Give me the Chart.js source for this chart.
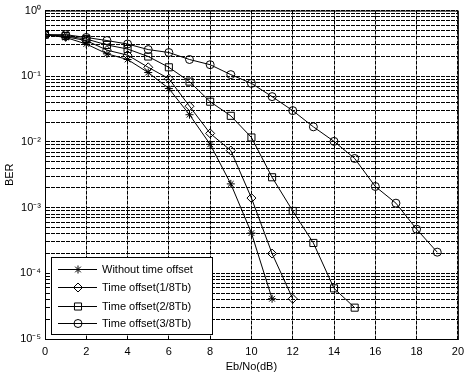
<!DOCTYPE html>
<html>
<head>
<meta charset="utf-8">
<script src="https://cdn.jsdelivr.net/npm/chart.js@4/dist/chart.umd.min.js"></script>
<style>
  html, body { margin: 0; padding: 0; background: #fff; }
  #wrap { width: 470px; height: 374px; }
</style>
</head>
<body>
<div id="wrap"><canvas id="berChart" width="470" height="374"></canvas></div>
<script>
const FONT_FAMILY = '"Liberation Sans", Arial, Helvetica, sans-serif';

const snrNoOffset = [0, 1, 2, 3, 4, 5, 6, 7, 8, 9, 10, 11];
const berNoOffset = [0.43, 0.39, 0.31, 0.22, 0.18, 0.114, 0.065, 0.026, 0.0092, 0.0023, 0.00041, 0.000041];

const snrOffset1 = [0, 1, 2, 3, 4, 5, 6, 7, 8, 9, 10, 11, 12];
const berOffset1 = [0.43, 0.4, 0.35, 0.25, 0.21, 0.137, 0.092, 0.035, 0.0135, 0.0074, 0.0014, 0.0002, 0.000041];

const snrOffset2 = [0, 1, 2, 3, 4, 5, 6, 7, 8, 9, 10, 11, 12, 13, 14, 15];
const berOffset2 = [0.43, 0.41, 0.37, 0.3, 0.26, 0.2, 0.137, 0.083, 0.041, 0.025, 0.0117, 0.0029, 0.00089, 0.00029, 0.000059, 0.00003];

const snrOffset3 = [0, 1, 2, 3, 4, 5, 6, 7, 8, 9, 10, 11, 12, 13, 14, 15, 16, 17, 18, 19];
const berOffset3 = [0.43, 0.43, 0.39, 0.35, 0.31, 0.255, 0.23, 0.18, 0.15, 0.106, 0.078, 0.049, 0.03, 0.017, 0.0102, 0.0056, 0.0021, 0.00117, 0.00047, 0.00021];

const seriesLabels = ['Without time offset', 'Time offset(1/8Tb)', 'Time offset(2/8Tb)', 'Time offset(3/8Tb)'];
const seriesMarkers = ['star', 'rectRot', 'rect', 'circle'];
const markerSizes = [4, 4.5, 5, 4];

const xTickValues = [0, 2, 4, 6, 8, 10, 12, 14, 16, 18, 20];
const decadeExponents = [-5, -4, -3, -2, -1, 0];

const SUPERSCRIPT = { '-': '\u207B', 0: '\u2070', 1: '\u00B9', 2: '\u00B2', 3: '\u00B3', 4: '\u2074', 5: '\u2075' };

/**
 * every 1..9 x 10^k step so that the minor grid is drawn like matlab
 */
const yTickValues = [];
decadeExponents.forEach(exp => {
  if (exp === 0) {
    yTickValues.push(1);
    return;
  }
  for (let m = 1; m <= 9; m++) yTickValues.push(Number((m * Math.pow(10, exp)).toPrecision(3)));
});

const toPoints = (xs, ys) => xs.map((x, i) => ({ x, y: ys[i] }));

const powerLabel = value => {
  const exp = Math.round(Math.log10(value));
  if (Math.abs(Math.log10(value) - exp) > 1e-6) return '';
  return '10' + String(exp).split('').map(c => SUPERSCRIPT[c]).join('');
};

const dataSets = [
  [snrNoOffset, berNoOffset],
  [snrOffset1, berOffset1],
  [snrOffset2, berOffset2],
  [snrOffset3, berOffset3],
].map(([xs, ys], i) => ({
  label: seriesLabels[i],
  data: toPoints(xs, ys),
  borderColor: '#000',
  backgroundColor: 'rgba(0,0,0,0)',
  borderWidth: 1,
  pointStyle: seriesMarkers[i],
  pointRadius: markerSizes[i],
  pointBorderColor: '#000',
  pointBackgroundColor: 'rgba(0,0,0,0)',
  pointBorderWidth: 1,
  tension: 0,
}));

/**
 * box round the plot area plus the legend drawn inside it (bottom left)
 */
const frameAndLegend = {
  id: 'frameAndLegend',
  afterDatasetsDraw(chart) {
    const { ctx, chartArea } = chart;
    ctx.save();
    ctx.strokeStyle = '#000';
    ctx.lineWidth = 1;
    ctx.setLineDash([]);
    ctx.strokeRect(chartArea.left + 0.5, chartArea.top + 0.5, chartArea.right - chartArea.left, chartArea.bottom - chartArea.top);

    const box = { x: 51, y: 257, w: 161, h: 77 };
    ctx.fillStyle = '#fff';
    ctx.fillRect(box.x, box.y, box.w, box.h);
    ctx.strokeRect(box.x + 0.5, box.y + 0.5, box.w, box.h);

    const rowY = [269, 287, 306, 323];
    ctx.font = '11px ' + FONT_FAMILY;
    ctx.textBaseline = 'middle';
    ctx.textAlign = 'left';
    chart.data.datasets.forEach((ds, i) => {
      const y = rowY[i];
      ctx.beginPath();
      ctx.moveTo(58, y + 0.5);
      ctx.lineTo(97, y + 0.5);
      ctx.stroke();
      // hollow marker, like the ones on the curves
      ctx.fillStyle = 'rgba(0,0,0,0)';
      Chart.helpers.drawPoint(ctx, {
        pointStyle: ds.pointStyle,
        radius: ds.pointRadius,
        rotation: 0,
        borderWidth: 1,
      }, 78, y + 0.5);
      ctx.fillStyle = '#000';
      ctx.fillText(ds.label, 102, y + 1);
    });
    ctx.restore();
  },
};

const ctx = document.getElementById('berChart').getContext('2d');

new Chart(ctx, {
  type: 'line',
  data: { datasets: dataSets },
  plugins: [frameAndLegend],
  options: {
    responsive: false,
    animation: false,
    layout: { padding: { top: 10, right: 5, left: 3, bottom: 0 } },
    plugins: {
      legend: { display: false },
      tooltip: { enabled: false },
    },
    scales: {
      x: {
        type: 'linear',
        min: 0,
        max: 20,
        afterBuildTicks(scale) {
          scale.ticks = xTickValues.map(value => ({ value }));
        },
        afterFit(scale) {
          scale.height = 35;
        },
        grid: { color: '#000', lineWidth: 1, drawTicks: false },
        border: { display: true, color: '#000', dash: [4, 1] },
        ticks: {
          color: '#000',
          padding: 6,
          maxRotation: 0,
          autoSkip: false,
          font: { family: FONT_FAMILY, size: 11 },
        },
        title: {
          display: true,
          text: 'Eb/No(dB)',
          color: '#000',
          padding: { top: 2, bottom: 0 },
          font: { family: FONT_FAMILY, size: 11 },
        },
      },
      y: {
        type: 'logarithmic',
        min: 1e-5,
        max: 1,
        afterBuildTicks(scale) {
          scale.ticks = yTickValues.map(value => ({ value }));
        },
        afterFit(scale) {
          scale.width = 42;
        },
        grid: { color: '#000', lineWidth: 1, drawTicks: false },
        border: { display: true, color: '#000', dash: [4, 1] },
        ticks: {
          color: '#000',
          padding: 4,
          autoSkip: false,
          callback: value => powerLabel(value),
          font: { family: FONT_FAMILY, size: 11 },
        },
        title: {
          display: true,
          text: 'BER',
          color: '#000',
          padding: { top: 0, bottom: 0 },
          font: { family: FONT_FAMILY, size: 11 },
        },
      },
    },
  },
});
</script>
</body>
</html>
